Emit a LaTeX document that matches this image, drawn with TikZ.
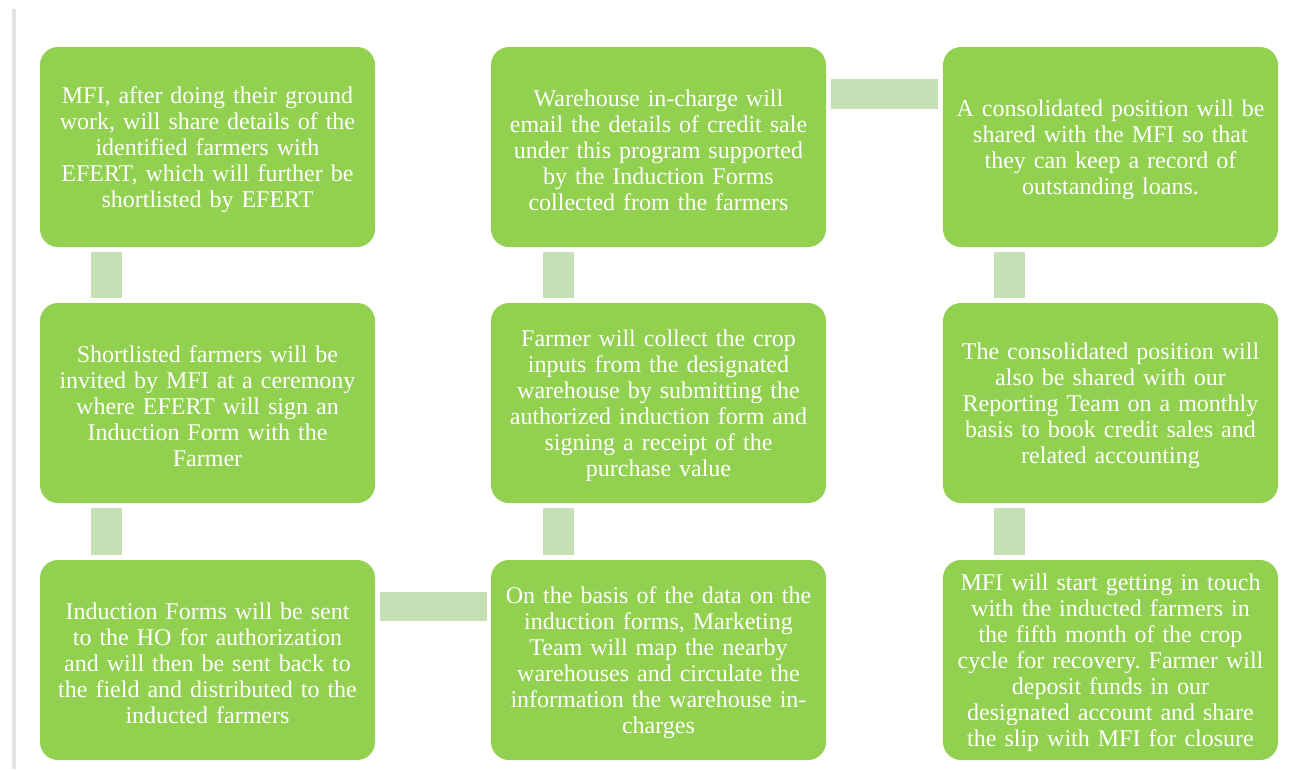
\documentclass[tikz,border=0pt]{standalone}
\usepackage{fontspec}
\setmainfont{Liberation Serif}
\frenchspacing
\definecolor{boxgreen}{HTML}{92D050}
\definecolor{linkgreen}{HTML}{C5E0B4}
\definecolor{edgegray}{HTML}{E3E3E3}
\tikzset{
  stepbox/.style={draw=none, fill=boxgreen, rounded corners=18pt,
    minimum width=335pt, minimum height=200pt, text width=333pt,
    align=center, text=white, inner sep=0pt,
    execute at begin node={\rule{0pt}{23pt}},
    font=\fontsize{24}{26}\selectfont},
  vlink/.style={draw=linkgreen, line width=31pt},
  hlink/.style={draw=linkgreen, line width=29.5pt}
}
\begin{document}
\begin{tikzpicture}[x=1pt, y=-1pt]
    \useasboundingbox (0,0) rectangle (1291,769);
    \fill[edgegray] (12,9) rectangle (16,769);

    \node[stepbox] (A) at (207.5,147) {MFI, after doing their ground\\work, will share details of the\\identified farmers with\\EFERT, which will further be\\shortlisted by EFERT};
    \node[stepbox] (B) at (207.5,403) {Shortlisted farmers will be\\invited by MFI at a ceremony\\where EFERT will sign an\\Induction Form with the\\Farmer};
    \node[stepbox] (C) at (207.5,660) {Induction Forms will be sent\\to the HO for authorization\\and will then be sent back to\\the field and distributed to the\\inducted farmers};

    \node[stepbox] (D) at (658.5,660) {On the basis of the data on the\\induction forms, Marketing\\Team will map the nearby\\warehouses and circulate the\\information the warehouse in-\\charges};
    \node[stepbox] (E) at (658.5,403) {Farmer will collect the crop\\inputs from the designated\\warehouse by submitting the\\authorized induction form and\\signing a receipt of the\\purchase value};
    \node[stepbox] (F) at (658.5,147) {Warehouse in-charge will\\email the details of credit sale\\under this program supported\\by the Induction Forms\\collected from the farmers};

    \node[stepbox] (G) at (1110.5,147) {A consolidated position will be\\shared with the MFI so that\\they can keep a record of\\outstanding loans.};
    \node[stepbox] (H) at (1110.5,403) {The consolidated position will\\also be shared with our\\Reporting Team on a monthly\\basis to book credit sales and\\related accounting};
    \node[stepbox] (I) at (1110.5,660) {MFI will start getting in touch\\with the inducted farmers in\\the fifth month of the crop\\cycle for recovery. Farmer will\\deposit funds in our\\designated account and share\\the slip with MFI for closure};

    % links between the steps
    \draw[vlink] ([xshift=-101pt,yshift=-5pt]A.south) -- ([xshift=-101pt,yshift=5pt]B.north);
    \draw[vlink] ([xshift=-101pt,yshift=-5pt]B.south) -- ([xshift=-101pt,yshift=5pt]C.north);
    \draw[hlink] ([xshift=5pt,yshift=53.5pt]C.east) -- ([xshift=-4pt,yshift=53.5pt]D.west);
    \draw[vlink] ([xshift=-100pt,yshift=5pt]D.north) -- ([xshift=-100pt,yshift=-5pt]E.south);
    \draw[vlink] ([xshift=-100pt,yshift=5pt]E.north) -- ([xshift=-100pt,yshift=-5pt]F.south);
    \draw[hlink] ([xshift=5pt,yshift=53pt]F.east) -- ([xshift=-5pt,yshift=53pt]G.west);
    \draw[vlink] ([xshift=-101pt,yshift=-5pt]G.south) -- ([xshift=-101pt,yshift=5pt]H.north);
    \draw[vlink] ([xshift=-101pt,yshift=-5pt]H.south) -- ([xshift=-101pt,yshift=5pt]I.north);
\end{tikzpicture}
\end{document}
